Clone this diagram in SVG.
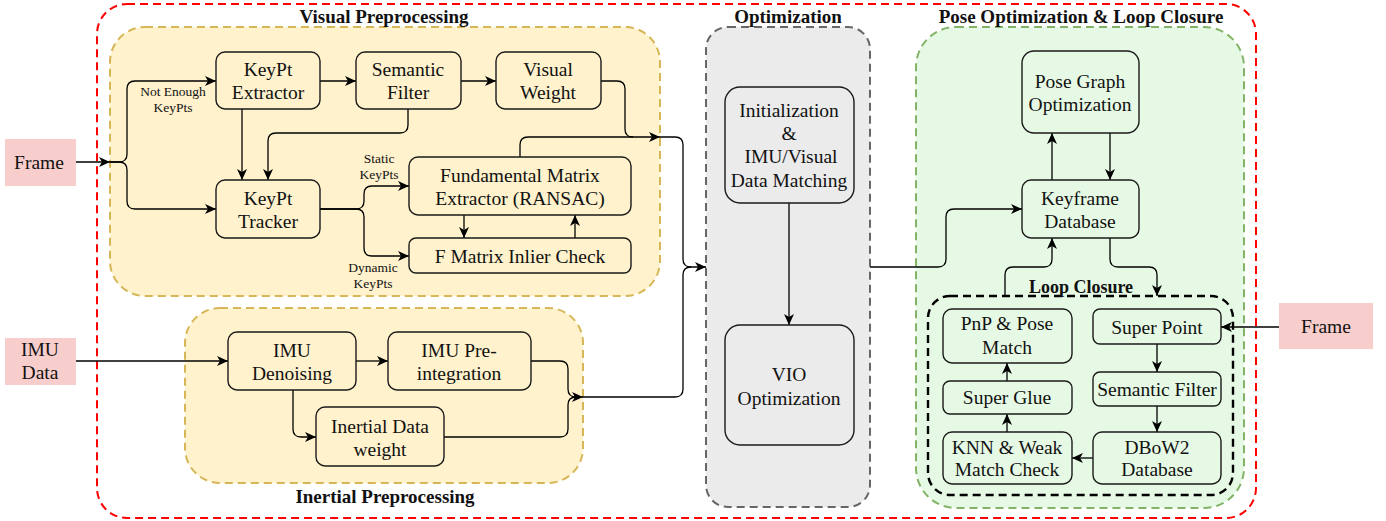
<svg xmlns="http://www.w3.org/2000/svg" width="1386" height="521" viewBox="0 0 1386 521">
<defs>
<marker id="arr" markerWidth="12" markerHeight="10" refX="11" refY="5" orient="auto" markerUnits="userSpaceOnUse">
<path d="M0,0 L11,5 L0,10 L3,5 Z" fill="#000"/>
</marker>
<style>
text{font-family:"Liberation Serif","Times New Roman",serif;fill:#111;text-anchor:middle}
.t{font-size:19.5px}
.s{font-size:13.5px}
.h{font-size:19px;font-weight:bold}
.n{fill:none;stroke:#1a1a1a;stroke-width:1.4}
.ng{fill:#ebebeb;stroke:#1a1a1a;stroke-width:1.4}
.ngr{fill:#e6f9e4;stroke:#1a1a1a;stroke-width:1.4}
.c{fill:none;stroke:#000;stroke-width:1.3;marker-end:url(#arr)}
.l{fill:none;stroke:#000;stroke-width:1.3}
.pink{fill:#f8cecc}
</style>
</defs>
<!-- containers -->
<rect id="outer" x="97" y="4" width="1159" height="514" rx="30" fill="none" stroke="#ff0000" stroke-width="2" stroke-dasharray="8,5"/>
<g id="visual-preprocessing">
<rect x="110" y="27" width="550" height="269" rx="35" fill="#fff2cc" stroke="#d6b656" stroke-width="2" stroke-dasharray="8,5"/>
<text class="h" x="384" y="23">Visual Preprocessing</text>
</g>
<g id="inertial-preprocessing">
<rect x="185" y="308" width="398" height="175" rx="35" fill="#fff2cc" stroke="#d6b656" stroke-width="2" stroke-dasharray="8,5"/>
<text class="h" x="385" y="503">Inertial Preprocessing</text>
</g>
<g id="optimization">
<rect x="706" y="27" width="164" height="480" rx="22" fill="#ebebeb" stroke="#666666" stroke-width="2" stroke-dasharray="8,5"/>
<text class="h" x="788" y="23">Optimization</text>
</g>
<g id="pose-optimization">
<rect x="916" y="27" width="328" height="481" rx="40" fill="#e6f9e4" stroke="#82b366" stroke-width="2" stroke-dasharray="8,5"/>
<text class="h" x="1081" y="23">Pose Optimization &amp; Loop Closure</text>
</g>
<g id="loop-closure">
<rect x="928" y="296" width="305" height="199" rx="22" fill="none" stroke="#000" stroke-width="2.4" stroke-dasharray="8,5"/>
<text class="h" x="1081" y="293" style="font-size:18px">Loop Closure</text>
</g>

<!-- connectors -->
<g id="connectors">
<path class="c" d="M76,162 H110"/>
<path class="c" d="M110,162 H119 Q127,162 127,154 V89 Q127,81 135,81 H216"/>
<path class="c" d="M110,162 H119 Q127,162 127,170 V201 Q127,209 135,209 H216"/>
<path class="c" d="M320,81 H356"/>
<path class="c" d="M461,81 H496"/>
<path class="c" d="M242,109 V180"/>
<path class="c" d="M408,109 V125 Q408,133 400,133 H276 Q268,133 268,141 V180"/>
<path class="c" d="M601,81 H617 Q625,81 625,89 V129 Q625,137 633,137 H660"/>
<path class="l" d="M520,157 V145 Q520,137 528,137 H633"/>
<path class="c" d="M660,137 H675 Q683,137 683,145 V259 Q683,267 691,267 H706"/>
<path class="c" d="M320,209 H356 Q364,209 364,201 V194 Q364,186 372,186 H409"/>
<path class="c" d="M320,209 H356 Q364,209 364,217 V248 Q364,256 372,256 H409"/>
<path class="c" d="M464,215 V238"/>
<path class="c" d="M575,238 V215"/>
<path class="c" d="M76,361 H228"/>
<path class="c" d="M356,361 H388"/>
<path class="c" d="M531,361 H560 Q568,361 568,369 V389 Q568,397 576,397 H583"/>
<path class="c" d="M293,390 V429 Q293,437 301,437 H316"/>
<path class="l" d="M444,437 H560 Q568,437 568,429 V405 Q568,397 576,397"/>
<path class="l" d="M583,397 H675 Q683,397 683,389 V275 Q683,267 691,267"/>
<path class="c" d="M789,203 V325"/>
<path class="c" d="M870,267 H938 Q946,267 946,259 V217 Q946,209 954,209 H1022"/>
<path class="c" d="M1052,180 V133"/>
<path class="c" d="M1110,133 V180"/>
<path class="c" d="M1005,296 V275 Q1005,267 1013,267 H1044 Q1052,267 1052,259 V238"/>
<path class="c" d="M1110,238 V259 Q1110,267 1118,267 H1149 Q1157,267 1157,275 V296"/>
<path class="c" d="M1279,327 H1221"/>
<path class="c" d="M1157,344 V372"/>
<path class="c" d="M1157,406 V432"/>
<path class="c" d="M1093,458 H1072"/>
<path class="c" d="M1007,432 V414"/>
<path class="c" d="M1007,381 V363"/>
<text class="s" x="173" y="96">Not Enough</text>
<text class="s" x="173" y="112">KeyPts</text>
<text class="s" x="379" y="163">Static</text>
<text class="s" x="379" y="179">KeyPts</text>
<text class="s" x="373" y="272">Dynamic</text>
<text class="s" x="373" y="288">KeyPts</text>
</g>

<!-- nodes -->
<g id="frame-left"><rect class="pink" x="5" y="139" width="71" height="47"/><text class="t" x="39" y="169">Frame</text></g>
<g id="imu-data"><rect class="pink" x="5" y="338" width="71" height="47"/><text class="t" x="40" y="356">IMU</text><text class="t" x="40" y="379">Data</text></g>
<g id="frame-right"><rect class="pink" x="1279" y="303" width="94" height="46"/><text class="t" x="1326" y="333">Frame</text></g>

<g id="keypt-extractor"><rect class="n" x="216" y="52" width="104" height="57" rx="9"/><text class="t" x="268" y="75.5">KeyPt</text><text class="t" x="268" y="98.5">Extractor</text></g>
<g id="semantic-filter"><rect class="n" x="356" y="52" width="105" height="57" rx="9"/><text class="t" x="408" y="75.5">Semantic</text><text class="t" x="408" y="98.5">Filter</text></g>
<g id="visual-weight"><rect class="n" x="496" y="52" width="105" height="57" rx="9"/><text class="t" x="548" y="75.5">Visual</text><text class="t" x="548" y="98.5">Weight</text></g>
<g id="keypt-tracker"><rect class="n" x="216" y="180" width="104" height="58" rx="9"/><text class="t" x="268" y="204.5">KeyPt</text><text class="t" x="268" y="227.5">Tracker</text></g>
<g id="fm-extractor"><rect class="n" x="409" y="157" width="222" height="58" rx="9"/><text class="t" x="520" y="181.5">Fundamental Matrix</text><text class="t" x="520" y="204.5">Extractor (RANSAC)</text></g>
<g id="fm-inlier"><rect class="n" x="409" y="238" width="222" height="35" rx="7"/><text class="t" x="520" y="262.5">F Matrix Inlier Check</text></g>

<g id="imu-denoising"><rect class="n" x="228" y="332" width="128" height="58" rx="9"/><text class="t" x="292" y="356.5">IMU</text><text class="t" x="292" y="379.5">Denoising</text></g>
<g id="imu-preintegration"><rect class="n" x="388" y="332" width="143" height="58" rx="9"/><text class="t" x="459" y="356.5">IMU Pre-</text><text class="t" x="459" y="379.5">integration</text></g>
<g id="inertial-weight"><rect class="n" x="316" y="407" width="128" height="59" rx="9"/><text class="t" x="380" y="432.5">Inertial Data</text><text class="t" x="380" y="455.5">weight</text></g>

<g id="initialization"><rect class="ng" x="725" y="87" width="129" height="116" rx="15"/><text class="t" x="789" y="116.5">Initialization</text><text class="t" x="789" y="139.5">&amp;</text><text class="t" x="791" y="163">IMU/Visual</text><text class="t" x="789" y="186.5">Data Matching</text></g>
<g id="vio-optimization"><rect class="ng" x="725" y="325" width="129" height="120" rx="15"/><text class="t" x="789" y="380.5">VIO</text><text class="t" x="789" y="404.5">Optimization</text></g>

<g id="pose-graph"><rect class="ngr" x="1022" y="51" width="117" height="82" rx="12"/><text class="t" x="1080" y="87.5">Pose Graph</text><text class="t" x="1080" y="110.5">Optimization</text></g>
<g id="keyframe-db"><rect class="ngr" x="1022" y="180" width="117" height="58" rx="9"/><text class="t" x="1080" y="204.5">Keyframe</text><text class="t" x="1080" y="227.5">Database</text></g>
<g id="pnp"><rect class="ngr" x="943" y="309" width="129" height="54" rx="9"/><text class="t" x="1007" y="329.5">PnP &amp; Pose</text><text class="t" x="1007" y="353.5">Match</text></g>
<g id="super-glue"><rect class="ngr" x="943" y="381" width="129" height="33" rx="7"/><text class="t" x="1007" y="403.5">Super Glue</text></g>
<g id="knn"><rect class="ngr" x="943" y="432" width="129" height="52" rx="9"/><text class="t" x="1007" y="453.5">KNN &amp; Weak</text><text class="t" x="1007" y="475.5">Match Check</text></g>
<g id="super-point"><rect class="ngr" x="1093" y="309" width="128" height="35" rx="7"/><text class="t" x="1157" y="333.5">Super Point</text></g>
<g id="semantic-filter-lc"><rect class="ngr" x="1093" y="372" width="128" height="34" rx="7"/><text class="t" x="1157" y="396">Semantic Filter</text></g>
<g id="dbow2"><rect class="ngr" x="1093" y="432" width="128" height="52" rx="9"/><text class="t" x="1157" y="453.5">DBoW2</text><text class="t" x="1157" y="475.5">Database</text></g>
</svg>
